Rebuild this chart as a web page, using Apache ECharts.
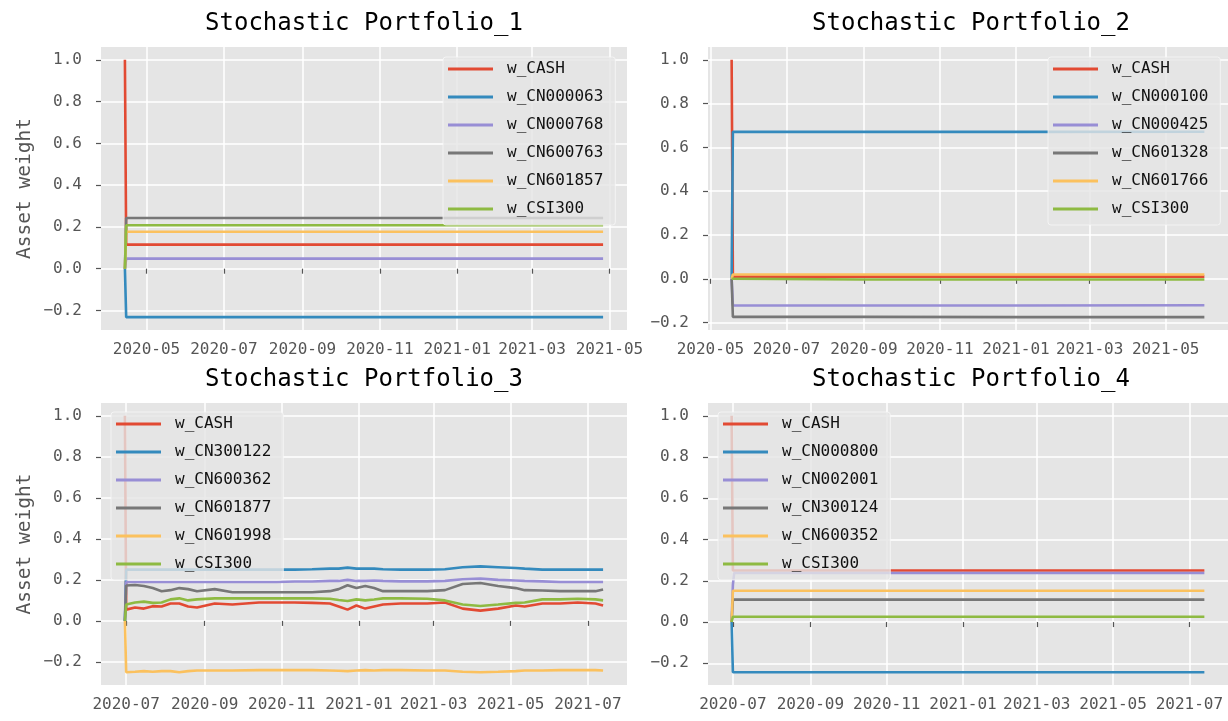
<!DOCTYPE html>
<html>
<head>
<meta charset="utf-8">
<script src="https://cdn.jsdelivr.net/npm/echarts@6/dist/echarts.min.js"></script>
<style>
  html, body { margin: 0; padding: 0; background: #fff; }
  #chart { width: 1228px; height: 721px; }
</style>
</head>
<body>
<div id="chart"></div>
<script>
// ---- data ----
const yTickValues = [-0.2, 0, 0.2, 0.4, 0.6, 0.8, 1.0];

// Portfolio 1
const p1Dates = ['2020-04-14', '2020-04-15', '2020-08-14', '2020-12-14', '2021-04-26'];
const p1Names = ['w_CASH', 'w_CN000063', 'w_CN000768', 'w_CN600763', 'w_CN601857', 'w_CSI300'];
const p1Cash = [1.0, 0.115, 0.115, 0.115, 0.115];
const p1CN000063 = [0, -0.232, -0.232, -0.232, -0.232];
const p1CN000768 = [0, 0.048, 0.048, 0.048, 0.048];
const p1CN600763 = [0, 0.243, 0.243, 0.243, 0.243];
const p1CN601857 = [0, 0.177, 0.177, 0.177, 0.177];
const p1CSI300 = [0, 0.208, 0.208, 0.208, 0.208];
const p1XTicks = ['2020-05', '2020-07', '2020-09', '2020-11', '2021-01', '2021-03', '2021-05'];

// Portfolio 2
const p2Dates = ['2020-05-18', '2020-05-19', '2020-09-01', '2021-01-04', '2021-06-01'];
const p2Names = ['w_CASH', 'w_CN000100', 'w_CN000425', 'w_CN601328', 'w_CN601766', 'w_CSI300'];
const p2Cash = [1.0, 0.01, 0.01, 0.01, 0.01];
const p2CN000100 = [0, 0.672, 0.671, 0.671, 0.672];
const p2CN000425 = [0, -0.122, -0.122, -0.122, -0.121];
const p2CN601328 = [0, -0.174, -0.174, -0.175, -0.175];
const p2CN601766 = [0, 0.02, 0.02, 0.02, 0.02];
const p2CSI300 = [0, -0.003, -0.003, -0.003, -0.003];
const p2XTicks = ['2020-05', '2020-07', '2020-09', '2020-11', '2021-01', '2021-03', '2021-05'];

// Portfolio 3
const p3Dates = ['2020-06-30', '2020-07-01', '2020-07-08', '2020-07-15', '2020-07-22', '2020-07-29',
  '2020-08-05', '2020-08-12', '2020-08-19', '2020-08-26', '2020-09-09', '2020-09-23', '2020-10-14',
  '2020-10-28', '2020-11-11', '2020-11-25', '2020-12-09', '2020-12-16', '2020-12-23', '2020-12-30',
  '2021-01-06', '2021-01-13', '2021-01-20', '2021-02-03', '2021-02-24', '2021-03-10', '2021-03-24',
  '2021-04-07', '2021-04-21', '2021-05-05', '2021-05-12', '2021-05-26', '2021-06-09', '2021-06-23',
  '2021-07-07', '2021-07-13'];
const p3Names = ['w_CASH', 'w_CN300122', 'w_CN600362', 'w_CN601877', 'w_CN601998', 'w_CSI300'];
const p3Cash = [1.0, 0.055, 0.065, 0.06, 0.072, 0.07, 0.085, 0.085, 0.07, 0.065, 0.085, 0.08, 0.09,
  0.09, 0.09, 0.088, 0.085, 0.07, 0.055, 0.075, 0.06, 0.07, 0.08, 0.085, 0.085, 0.09, 0.06,
  0.05, 0.06, 0.075, 0.07, 0.085, 0.085, 0.09, 0.085, 0.075];
const p3CN300122 = [0, 0.25, 0.25, 0.25, 0.25, 0.25, 0.25, 0.25, 0.25, 0.25, 0.25, 0.25, 0.25,
  0.25, 0.25, 0.252, 0.255, 0.255, 0.26, 0.255, 0.255, 0.255, 0.252, 0.25, 0.25, 0.252, 0.262,
  0.266, 0.262, 0.258, 0.255, 0.25, 0.25, 0.25, 0.25, 0.25];
const p3CN600362 = [0, 0.19, 0.19, 0.19, 0.19, 0.19, 0.19, 0.19, 0.19, 0.19, 0.19, 0.19, 0.19,
  0.19, 0.192, 0.192, 0.195, 0.195, 0.2, 0.195, 0.195, 0.197, 0.195, 0.193, 0.193, 0.195, 0.203,
  0.206, 0.2, 0.197, 0.195, 0.193, 0.19, 0.19, 0.19, 0.19];
const p3CN601877 = [0, 0.173, 0.175, 0.17, 0.16, 0.145, 0.15, 0.16, 0.155, 0.145, 0.155, 0.14, 0.14,
  0.14, 0.14, 0.14, 0.145, 0.155, 0.174, 0.16, 0.17, 0.16, 0.145, 0.145, 0.145, 0.15, 0.18,
  0.185, 0.17, 0.16, 0.15, 0.148, 0.145, 0.145, 0.145, 0.153];
const p3CN601998 = [0, -0.25, -0.248, -0.245, -0.248, -0.245, -0.245, -0.25, -0.245, -0.242, -0.242,
  -0.242, -0.24, -0.24, -0.24, -0.24, -0.242, -0.243, -0.245, -0.242, -0.24, -0.242, -0.24, -0.24,
  -0.242, -0.242, -0.248, -0.25, -0.248, -0.245, -0.242, -0.242, -0.24, -0.24, -0.24, -0.242];
const p3CSI300 = [0, 0.08, 0.09, 0.094, 0.088, 0.09, 0.105, 0.11, 0.1, 0.105, 0.11, 0.11, 0.11,
  0.11, 0.11, 0.11, 0.108, 0.102, 0.097, 0.105, 0.1, 0.104, 0.11, 0.11, 0.108, 0.1, 0.08,
  0.073, 0.08, 0.088, 0.09, 0.105, 0.105, 0.108, 0.105, 0.1];
const p3XTicks = ['2020-07', '2020-09', '2020-11', '2021-01', '2021-03', '2021-05', '2021-07'];

// Portfolio 4
const p4Dates = ['2020-06-30', '2020-07-01', '2020-07-02', '2020-11-02', '2021-03-01', '2021-07-13'];
const p4Names = ['w_CASH', 'w_CN000800', 'w_CN002001', 'w_CN300124', 'w_CN600352', 'w_CSI300'];
const p4Cash = [1.0, 0.25, 0.25, 0.25, 0.25, 0.25];
const p4CN000800 = [0, -0.243, -0.243, -0.243, -0.243, -0.243];
const p4CN002001 = [0, 0.18, 0.238, 0.238, 0.238, 0.238];
const p4CN300124 = [0, 0.109, 0.109, 0.109, 0.109, 0.109];
const p4CN600352 = [0, 0.152, 0.152, 0.152, 0.152, 0.152];
const p4CSI300 = [0, 0.026, 0.026, 0.026, 0.026, 0.026];
const p4XTicks = ['2020-07', '2020-09', '2020-11', '2021-01', '2021-03', '2021-05', '2021-07'];

// ---- style ----
const COLORS = ['#E24A33', '#348ABD', '#988ED5', '#777777', '#FBC15E', '#8EBA42'];
const FONT = '"DejaVu Sans Mono", "Liberation Mono", monospace';
const GRID_W = 526;

const panels = [
  { title: 'Stochastic Portfolio_1', dates: p1Dates, names: p1Names,
    values: [p1Cash, p1CN000063, p1CN000768, p1CN600763, p1CN601857, p1CSI300],
    xTicks: p1XTicks, left: 101, top: 47, height: 283, legendLeft: 443, legendTop: 57, yName: true },
  { title: 'Stochastic Portfolio_2', dates: p2Dates, names: p2Names,
    values: [p2Cash, p2CN000100, p2CN000425, p2CN601328, p2CN601766, p2CSI300],
    xTicks: p2XTicks, left: 708, top: 47, height: 283, legendLeft: 1048, legendTop: 57, yName: false },
  { title: 'Stochastic Portfolio_3', dates: p3Dates, names: p3Names,
    values: [p3Cash, p3CN300122, p3CN600362, p3CN601877, p3CN601998, p3CSI300],
    xTicks: p3XTicks, left: 101, top: 403, height: 282, legendLeft: 111, legendTop: 412, yName: true },
  { title: 'Stochastic Portfolio_4', dates: p4Dates, names: p4Names,
    values: [p4Cash, p4CN000800, p4CN002001, p4CN300124, p4CN600352, p4CSI300],
    xTicks: p4XTicks, left: 708, top: 403, height: 282, legendLeft: 718, legendTop: 412, yName: false }
];

function ts(s) {
  const p = s.split('-').map(Number);
  return Date.UTC(p[0], p[1] - 1, p[2] || 1);
}
const pad2 = n => (n < 10 ? '0' : '') + n;
// matplotlib-like 5% margins
const lo = v => v.min - (v.max - v.min) * 0.05;
const hi = v => v.max + (v.max - v.min) * 0.05;

const option = {
  animation: false,
  backgroundColor: '#ffffff',
  title: [], grid: [], xAxis: [], yAxis: [], legend: [], series: []
};

panels.forEach((p, i) => {
  const xt = p.xTicks.map(ts);
  option.grid.push({
    left: p.left, top: p.top, width: GRID_W, height: p.height,
    show: true, backgroundColor: '#E5E5E5', borderWidth: 0, containLabel: false
  });
  option.title.push({
    text: p.title, left: p.left + GRID_W / 2, top: p.top - 35, textAlign: 'center', padding: 0,
    textStyle: { fontFamily: FONT, fontSize: 24, fontWeight: 'normal', color: '#000' }
  });
  // dates are kept as UTC timestamps on a value axis, ticks on month starts
  option.xAxis.push({
    type: 'value', gridIndex: i, min: lo, max: hi, scale: true,
    axisLine: { show: false },
    axisTick: { show: true, length: 5, customValues: xt, lineStyle: { color: '#555555', width: 1.2 } },
    axisLabel: {
      customValues: xt, margin: 12, color: '#555555', fontFamily: FONT, fontSize: 16,
      formatter: v => { const d = new Date(v); return d.getUTCFullYear() + '-' + pad2(d.getUTCMonth() + 1); }
    },
    splitLine: { show: true, lineStyle: { color: '#ffffff', width: 1.5 } }
  });
  option.yAxis.push({
    type: 'value', gridIndex: i, min: lo, max: hi,
    name: p.yName ? 'Asset weight' : '', nameLocation: 'middle', nameGap: 66,
    nameTextStyle: { fontFamily: FONT, fontSize: 19.5, color: '#555555' },
    axisLine: { show: false },
    axisTick: { show: true, length: 5, customValues: yTickValues, lineStyle: { color: '#555555', width: 1.2 } },
    axisLabel: {
      customValues: yTickValues, margin: 19, color: '#555555', fontFamily: FONT, fontSize: 16,
      formatter: v => (v < -1e-9 ? '\u2212' : '') + Math.abs(v).toFixed(1)
    },
    splitLine: { show: true, lineStyle: { color: '#ffffff', width: 1.5 } }
  });
  option.legend.push({
    data: p.names, orient: 'vertical', left: p.legendLeft, top: p.legendTop,
    icon: 'rect', itemWidth: 45, itemHeight: 3, itemGap: 10,
    padding: [3, 12, 7, 5], selectedMode: false,
    backgroundColor: 'rgba(229,229,229,0.8)', borderColor: 'rgba(250,250,250,0.7)',
    borderWidth: 1, borderRadius: 3,
    textStyle: { fontFamily: FONT, fontSize: 16, color: '#111', lineHeight: 18, padding: [0, 0, 0, 9] }
  });
  p.names.forEach((name, k) => {
    option.series.push({
      type: 'line', name: name, xAxisIndex: i, yAxisIndex: i,
      data: p.dates.map((d, j) => [ts(d), p.values[k][j]]),
      showSymbol: false, symbol: 'none',
      lineStyle: { width: 2.6, color: COLORS[k] },
      itemStyle: { color: COLORS[k] },
      emphasis: { disabled: true }
    });
  });
});

const chart = echarts.init(document.getElementById('chart'));
chart.setOption(option);
</script>
</body>
</html>
